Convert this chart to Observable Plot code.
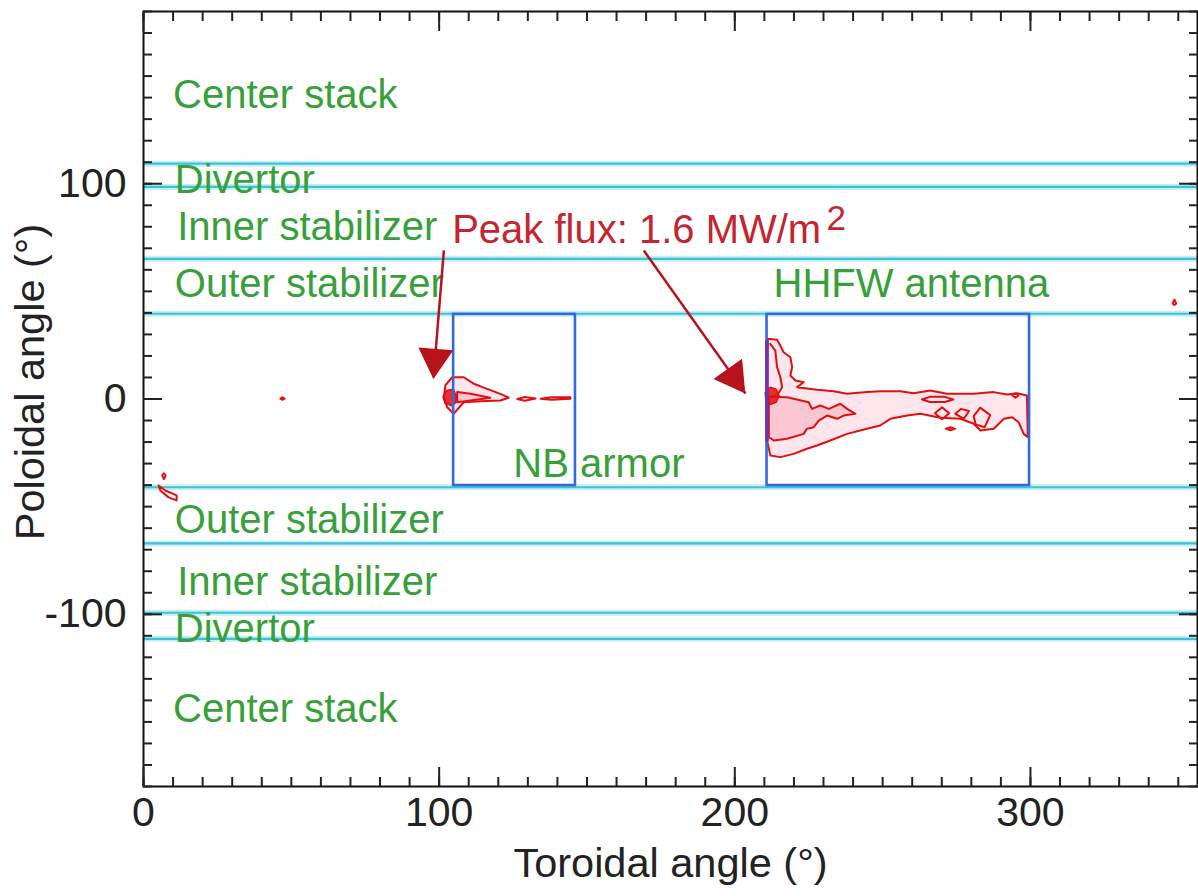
<!DOCTYPE html>
<html>
<head>
<meta charset="utf-8">
<script src="https://cdn.jsdelivr.net/npm/d3@7"></script>
<script src="https://cdn.jsdelivr.net/npm/@observablehq/plot@0.6"></script>
<style>
  html, body { margin: 0; padding: 0; background: #fff; overflow: hidden; }
  #chart svg { display: block; }
</style>
</head>
<body>
<div id="chart"></div>
<script>
// ---- Axis ticks ----
const xMajorTicks = [0, 100, 200, 300];
const xMinorTicks = d3.range(0, 360, 10);
const yMajorTicks = [-100, 0, 100];
const yMinorTicks = d3.range(-180, 181, 10);

// ---- Region boundaries (poloidal angle, deg) ----
const boundaryLines = [109.3, 98.5, 65.1, 39.6, -41.0, -67.1, -99.3, -111.4];

// ---- Region labels ----
const regionNames = ["Center stack", "Divertor", "Inner stabilizer", "Outer stabilizer",
                     "Outer stabilizer", "Inner stabilizer", "Divertor", "Center stack",
                     "HHFW antenna", "NB armor"];
const regionLabelX = [10.0, 10.6, 11.4, 10.6, 10.6, 11.4, 10.6, 10.0, 213.1, 125.1];
const regionLabelY = [141.0, 101.7, 79.7, 53.4, -56.2, -85.2, -106.7, -143.9, 53.2, -30.4];

// ---- Component boxes (toroidal x1,x2 ; poloidal y1,y2) ----
const boxNames = ["NB armor", "HHFW antenna"];
const boxX1 = [104.9, 210.9];
const boxX2 = [146.1, 299.7];
const boxY1 = [-40.2, -40.2];
const boxY2 = [39.3, 39.3];

// ---- Heat-flux contours (traced outlines: [toroidal, poloidal]) ----
const hhfwOuter = [[211.1,28.0],[214.3,27.5],[215.4,24.8],[216.5,21.7],[218.8,19.4],[219.4,14.8],[218.8,10.9],[220.5,8.6],[223.3,7.8],[221.1,5.5],[227.8,4.3],[233.4,3.6],[238.0,2.4],[244.7,3.2],[249.2,3.6],[256.0,3.6],[260.5,2.7],[266.1,3.9],[271.8,2.4],[280.8,2.4],[287.5,3.2],[292.1,2.1],[295.5,2.7],[298.8,1.6],[299.1,-17.7],[297.7,-16.2],[296.0,-10.8],[293.8,-8.5],[291.0,-9.2],[287.6,-13.8],[283.1,-14.6],[280.8,-11.5],[276.3,-9.2],[269.5,-8.7],[262.8,-6.9],[258.3,-7.7],[252.6,-9.2],[249.2,-12.3],[244.7,-13.8],[238.0,-16.2],[232.3,-19.3],[227.8,-21.6],[224.4,-23.1],[219.9,-25.5],[215.4,-27.0],[212.0,-26.2],[210.9,-19.3],[210.9,10.0]];
const hhfwInner = [[211.5,1.0],[217.7,0.8],[225.0,-1.5],[226.1,-4.6],[228.9,-3.0],[231.8,-4.6],[235.7,-2.2],[238.0,-4.6],[240.8,-6.9],[236.8,-7.7],[234.6,-9.2],[231.2,-7.7],[228.4,-10.0],[226.7,-13.1],[224.4,-13.8],[223.3,-16.2],[217.7,-18.5],[213.2,-19.3],[211.5,-17.7]];
const hhfwLobe = [[212.0,25.6],[213.7,22.5],[214.3,14.8],[215.4,10.1],[216.0,5.5],[214.3,1.6],[212.0,1.0]];
const hhfwCore = [[210.3,3.0],[212.0,5.5],[214.0,4.5],[215.0,1.5],[214.0,-1.5],[212.0,-2.5],[210.5,-1.0]];
const hhfwLoopA = [[267.7,-6.6],[270.1,-3.8],[272.5,-6.6],[270.1,-9.4]];
const hhfwLoopB = [[274.6,-6.9],[276.5,-4.6],[279.2,-5.6],[277.5,-9.2]];
const hhfwLoopC = [[280.8,-8.0],[283.0,-4.0],[286.4,-7.5],[284.5,-13.1],[281.5,-11.8]];
const hhfwLoopD = [[263.3,-0.2],[266.0,1.0],[271.0,1.0],[273.9,-0.2],[271.0,-1.4],[266.0,-1.4]];
const hhfwLoopE = [[293.9,1.6],[294.9,2.6],[295.9,1.6],[294.9,0.6]];
const hhfwBlob = [[271.2,-13.8],[272.9,-13.0],[274.6,-13.8],[272.9,-14.6]];
const nbOuter = [[104.4,10.1],[108.3,10.1],[111.7,7.1],[116.2,4.7],[120.7,2.4],[123.5,0.6],[120.7,-0.7],[114.0,-1.0],[108.3,-1.5],[104.9,-6.9],[102.7,-3.8],[101.6,0.8],[102.1,6.3]];
const nbInner = [[106.1,3.2],[110.6,2.4],[117.3,0.6],[110.6,-0.7],[106.1,-1.5]];
const nbCore = [[101.3,1.0],[102.5,4.0],[104.8,4.5],[105.8,1.5],[105.6,-1.8],[104.2,-3.0],[102.0,-2.0]];
const nbLoopA = [[126.4,0.0],[129.0,0.9],[132.6,0.2],[129.0,-0.8]];
const nbLoopB = [[134.3,0.1],[138.0,0.8],[144.4,0.8],[144.4,0.1],[138.0,-0.4]];
const spotA = [[46.3,0.2],[47.0,0.8],[47.7,0.2],[47.0,-0.4]];
const spotB = [[6.3,-35.5],[6.9,-34.5],[7.5,-35.5],[6.9,-37.2]];
const spotC = [[5.1,-40.2],[7.4,-42.5],[11.2,-44.8],[11.2,-47.1],[8.5,-45.7],[5.7,-42.5]];
const spotD = [[348.1,44.4],[348.7,46.2],[349.3,44.4],[348.7,43.6]];

// ---- Peak-flux annotation ----
const peakText = ["Peak flux: 1.6 MW/m", "2"];
const peakTextX = [104.4, 231.0];
const peakTextY = [78.3, 83.6];
const arrowStartX = [101.6, 169.2];
const arrowStartY = [69.0, 69.0];
const arrowTipX = [98.1, 203.6];
const arrowTipY = [10.0, 2.6];
const arrowHeadX = [98.6, 199.6];
const arrowHeadY = [18.6, 10.2];
const arrowHeadAngle = [184.5, 144.6];

// ---- Build tables ----
const toRows = (pts, id) => pts.map(([x, y]) => ({id, x, y}));
const filledOuter = [...toRows(hhfwOuter, "hhfwOuter"), ...toRows(nbOuter, "nbOuter")];
const filledInner = [...toRows(hhfwInner, "hhfwInner"), ...toRows(nbInner, "nbInner")];
const loops = [
  ...toRows(hhfwLoopA, "a"), ...toRows(hhfwLoopB, "b"), ...toRows(hhfwLoopC, "c"),
  ...toRows(hhfwLoopD, "d"), ...toRows(hhfwLoopE, "e"), ...toRows(nbLoopA, "f"),
  ...toRows(nbLoopB, "g"), ...toRows(spotA, "h"), ...toRows(spotB, "i"),
  ...toRows(spotC, "j"), ...toRows(spotD, "k")
];
const cores = [...toRows(hhfwCore, "hc"), ...toRows(nbCore, "nc"), ...toRows(hhfwBlob, "hb")];
const lobe = toRows(hhfwLobe, "lobe");
const labels = regionNames.map((t, i) => ({t, x: regionLabelX[i], y: regionLabelY[i]}));
const boxes = boxNames.map((n, i) => ({n, x1: boxX1[i], x2: boxX2[i], y1: boxY1[i], y2: boxY2[i]}));
const arrows = arrowStartX.map((_, i) => ({x1: arrowStartX[i], y1: arrowStartY[i], x2: arrowTipX[i], y2: arrowTipY[i], hx: arrowHeadX[i], hy: arrowHeadY[i], a: arrowHeadAngle[i]}));

const green = "#38a03a";
const red = "#e01010";
const darkRed = "#b8121c";
const cyan = "#3cc3d6";
const blue = "#3468e0";
const tickColor = "#222";

const chart = Plot.plot({
  width: 1198,
  height: 896,
  marginLeft: 143,
  marginRight: 1,
  marginTop: 11,
  marginBottom: 110,
  x: {domain: [0, 356.5]},
  y: {domain: [-180, 180]},
  style: {fontFamily: "'Liberation Sans', Arial, Helvetica, sans-serif", fontSize: "40px", color: "#222", background: "#fff"},
  marks: [
    // boundary lines (halo + core)
    Plot.ruleY(boundaryLines, {stroke: "#c6eef4", strokeWidth: 6}),
    Plot.ruleY(boundaryLines, {stroke: cyan, strokeWidth: 2.2}),
    // contours
    Plot.line(filledOuter, {x: "x", y: "y", z: "id", curve: "linear-closed", fill: "#fee6ec", stroke: red, strokeWidth: 2}),
    Plot.line(filledInner, {x: "x", y: "y", z: "id", curve: "linear-closed", fill: "#f9c6d2", stroke: red, strokeWidth: 2}),
    Plot.line(loops, {x: "x", y: "y", z: "id", curve: "linear-closed", fill: "none", stroke: red, strokeWidth: 2}),
    Plot.line(lobe, {x: "x", y: "y", curve: "linear", stroke: red, strokeWidth: 2}),
    Plot.line(cores, {x: "x", y: "y", z: "id", curve: "linear-closed", fill: red, fillOpacity: 0.85, stroke: red, strokeWidth: 1.5}),
    // boxes
    Plot.rect(boxes, {x1: "x1", x2: "x2", y1: "y1", y2: "y2", fill: "none", stroke: blue, strokeWidth: 2.6}),
    Plot.ruleX([boxX1[1]], {y1: -20, y2: 27, stroke: "#7a2c9c", strokeWidth: 4, strokeOpacity: 0.8}),
    // region labels
    Plot.text(labels, {x: "x", y: "y", text: "t", textAnchor: "start", fill: green, fontSize: 40}),
    // annotation
    Plot.text([0], {x: peakTextX[0], y: peakTextY[0], text: [peakText[0]], textAnchor: "start", fill: "#c42530", fontSize: 40}),
    Plot.text([0], {x: peakTextX[1], y: peakTextY[1], text: [peakText[1]], textAnchor: "start", fill: "#c42530", fontSize: 35}),
    Plot.link(arrows, {x1: "x1", y1: "y1", x2: "x2", y2: "y2", stroke: darkRed, strokeWidth: 2.5}),
    Plot.dot(arrows, {x: "hx", y: "hy", rotate: "a", symbol: "triangle", r: 13, fill: darkRed, stroke: "none"}),
    // frame
    Plot.frame({stroke: "#111", strokeWidth: 2}),
    // inward ticks
    Plot.axisX({anchor: "bottom", ticks: xMinorTicks, tickSize: 9, dy: -9, text: null, stroke: tickColor, strokeWidth: 2}),
    Plot.axisX({anchor: "bottom", ticks: xMajorTicks, tickSize: 19, dy: -19, text: null, stroke: tickColor, strokeWidth: 2}),
    Plot.axisX({anchor: "top", ticks: xMinorTicks, tickSize: 9, dy: 9, text: null, stroke: tickColor, strokeWidth: 2}),
    Plot.axisX({anchor: "top", ticks: xMajorTicks, tickSize: 19, dy: 19, text: null, stroke: tickColor, strokeWidth: 2}),
    Plot.axisY({anchor: "left", ticks: yMinorTicks, tickSize: 9, dx: 9, text: null, stroke: tickColor, strokeWidth: 2}),
    Plot.axisY({anchor: "left", ticks: yMajorTicks, tickSize: 19, dx: 19, text: null, stroke: tickColor, strokeWidth: 2}),
    Plot.axisY({anchor: "right", ticks: yMinorTicks, tickSize: 9, dx: -9, text: null, stroke: tickColor, strokeWidth: 2}),
    Plot.axisY({anchor: "right", ticks: yMajorTicks, tickSize: 19, dx: -19, text: null, stroke: tickColor, strokeWidth: 2}),
    // tick labels
    Plot.axisX({anchor: "bottom", ticks: xMajorTicks, tickSize: 0, tickPadding: 10, tickFormat: d => String(d), label: null, fill: "#222", fontSize: 41}),
    Plot.axisY({anchor: "left", ticks: yMajorTicks, tickSize: 0, tickPadding: 17, tickFormat: d => String(d), label: null, fill: "#222", fontSize: 41}),
    // axis titles
    Plot.text(["Toroidal angle (°)"], {frameAnchor: "bottom", lineAnchor: "bottom", textAnchor: "middle", dy: 90, fill: "#222", fontSize: 41.5}),
    Plot.text(["Poloidal angle (°)"], {frameAnchor: "left", lineAnchor: "middle", textAnchor: "middle", dx: -113, dy: -17, rotate: -90, fill: "#222", fontSize: 41.5})
  ]
});
document.getElementById("chart").appendChild(chart);
</script>
</body>
</html>
